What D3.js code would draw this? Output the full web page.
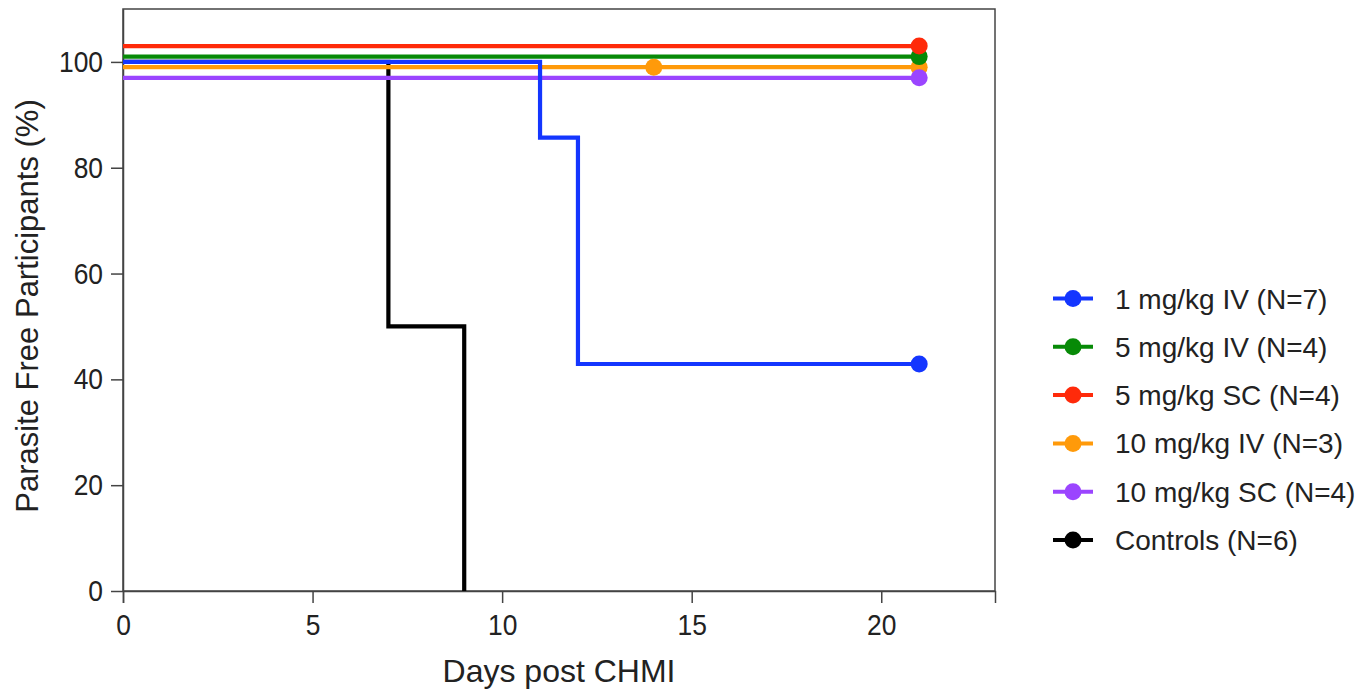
<!DOCTYPE html>
<html>
<head>
<meta charset="utf-8">
<script src="https://cdn.jsdelivr.net/npm/d3@7"></script>
<style>
  body { margin: 0; background: #fff; }
  text { font-family: "Liberation Sans", Arial, sans-serif; fill: #222; }
</style>
</head>
<body>
<svg id="chart" width="1372" height="692"></svg>
<script>
// Kaplan-Meier style step data: [day, percent]. Lines at 100% are drawn slightly
// offset in the original so the groups don't hide each other.
var seriesNames = ["1 mg/kg IV (N=7)", "5 mg/kg IV (N=4)", "5 mg/kg SC (N=4)",
                   "10 mg/kg IV (N=3)", "10 mg/kg SC (N=4)", "Controls (N=6)"];
var seriesColors = ["#1436ff", "#078a07", "#ff2a0a", "#ff9a0a", "#9b45ff", "#000000"];

var steps1IV   = [[0, 100], [11, 100], [11, 85.7], [12, 85.7], [12, 42.9], [21, 42.9]];
var steps5IV   = [[0, 101], [21, 101]];
var steps5SC   = [[0, 103], [21, 103]];
var steps10IV  = [[0, 99], [21, 99]];
var steps10SC  = [[0, 97], [21, 97]];
var stepsCtrl  = [[0, 100], [7, 100], [7, 50], [9, 50], [9, 0]];

// censor marks (day, percent)
var marks1IV   = [[21, 42.9]];
var marks5IV   = [[21, 101]];
var marks5SC   = [[21, 103]];
var marks10IV  = [[14, 99], [21, 99]];
var marks10SC  = [[21, 97]];
var marksCtrl  = [];

var xTicks = [0, 5, 10, 15, 20];
var yTicks = [0, 20, 40, 60, 80, 100];

var series = [
  { name: seriesNames[0], color: seriesColors[0], steps: steps1IV,  marks: marks1IV },
  { name: seriesNames[1], color: seriesColors[1], steps: steps5IV,  marks: marks5IV },
  { name: seriesNames[2], color: seriesColors[2], steps: steps5SC,  marks: marks5SC },
  { name: seriesNames[3], color: seriesColors[3], steps: steps10IV, marks: marks10IV },
  { name: seriesNames[4], color: seriesColors[4], steps: steps10SC, marks: marks10SC },
  { name: seriesNames[5], color: seriesColors[5], steps: stepsCtrl, marks: marksCtrl }
];

var svg = d3.select("#chart");
var plotLeft = 123, plotRight = 995, plotTop = 9, plotBottom = 591;

var x = d3.scaleLinear().domain([0, 23]).range([plotLeft, plotRight]);
var y = d3.scaleLinear().domain([0, 110]).range([plotBottom, plotTop]);

// frame
svg.append("rect")
    .attr("x", plotLeft).attr("y", plotTop)
    .attr("width", plotRight - plotLeft).attr("height", plotBottom - plotTop)
    .attr("fill", "none")
    .attr("stroke", "#444")
    .attr("stroke-width", 1.5);

// axes
var xAxis = svg.append("g")
    .attr("transform", "translate(0," + plotBottom + ")")
    .call(d3.axisBottom(x).tickValues(xTicks).tickSize(12).tickPadding(11));
var yAxis = svg.append("g")
    .attr("transform", "translate(" + plotLeft + ",0)")
    .call(d3.axisLeft(y).tickValues(yTicks).tickSize(12).tickSizeOuter(0).tickPadding(8));

[xAxis, yAxis].forEach(function (a) {
    a.select(".domain").attr("stroke", "#444").attr("stroke-width", 1.5);
    a.selectAll(".tick line").attr("stroke", "#444").attr("stroke-width", 1.5);
    // tick numbers in the reference are tall and a bit narrow
    a.selectAll(".tick text")
        .style("font-family", "'Liberation Sans', Arial, sans-serif")
        .style("font-size", "30px")
        .attr("fill", "#222")
        .each(function () {
            var w = this.getComputedTextLength();
            d3.select(this)
                .attr("textLength", w * 0.88)
                .attr("lengthAdjust", "spacingAndGlyphs");
        });
});

// axis titles
svg.append("text")
    .attr("x", (plotLeft + plotRight) / 2)
    .attr("y", 682)
    .attr("text-anchor", "middle")
    .style("font-size", "32px")
    .text("Days post CHMI");

svg.append("text")
    .attr("transform", "translate(38," + ((plotTop + plotBottom) / 2 + 6) + ") rotate(-90)")
    .attr("text-anchor", "middle")
    .style("font-size", "31px")
    .text("Parasite Free Participants (%)");

var line = d3.line()
    .x(function (d) { return x(d[0]); })
    .y(function (d) { return y(d[1]); });

// draw order as in the reference: controls underneath, blue on top
var drawOrder = [5, 3, 4, 1, 2, 0];
drawOrder.forEach(function (i) {
    var s = series[i];
    svg.append("path")
        .datum(s.steps)
        .attr("d", line)
        .attr("fill", "none")
        .attr("stroke", s.color)
        .attr("stroke-width", 4.2);
});
drawOrder.forEach(function (i) {
    var s = series[i];
    svg.selectAll(null)
        .data(s.marks)
        .enter()
        .append("circle")
            .attr("cx", function (d) { return x(d[0]); })
            .attr("cy", function (d) { return y(d[1]); })
            .attr("r", 8.5)
            .attr("fill", s.color);
});

// legend
var legend = svg.append("g").attr("transform", "translate(1053,298.5)");
var rows = legend.selectAll("g")
    .data(series)
    .enter()
    .append("g")
        .attr("transform", function (d, i) { return "translate(0," + (i * 48.3) + ")"; });
rows.append("line")
    .attr("x1", 0).attr("x2", 40)
    .attr("stroke", function (d) { return d.color; })
    .attr("stroke-width", 4);
rows.append("circle")
    .attr("cx", 20).attr("r", 8.5)
    .attr("fill", function (d) { return d.color; });
rows.append("text")
    .attr("x", 62)
    .attr("dy", "0.36em")
    .style("font-size", "28px")
    .text(function (d) { return d.name; });
</script>
</body>
</html>
